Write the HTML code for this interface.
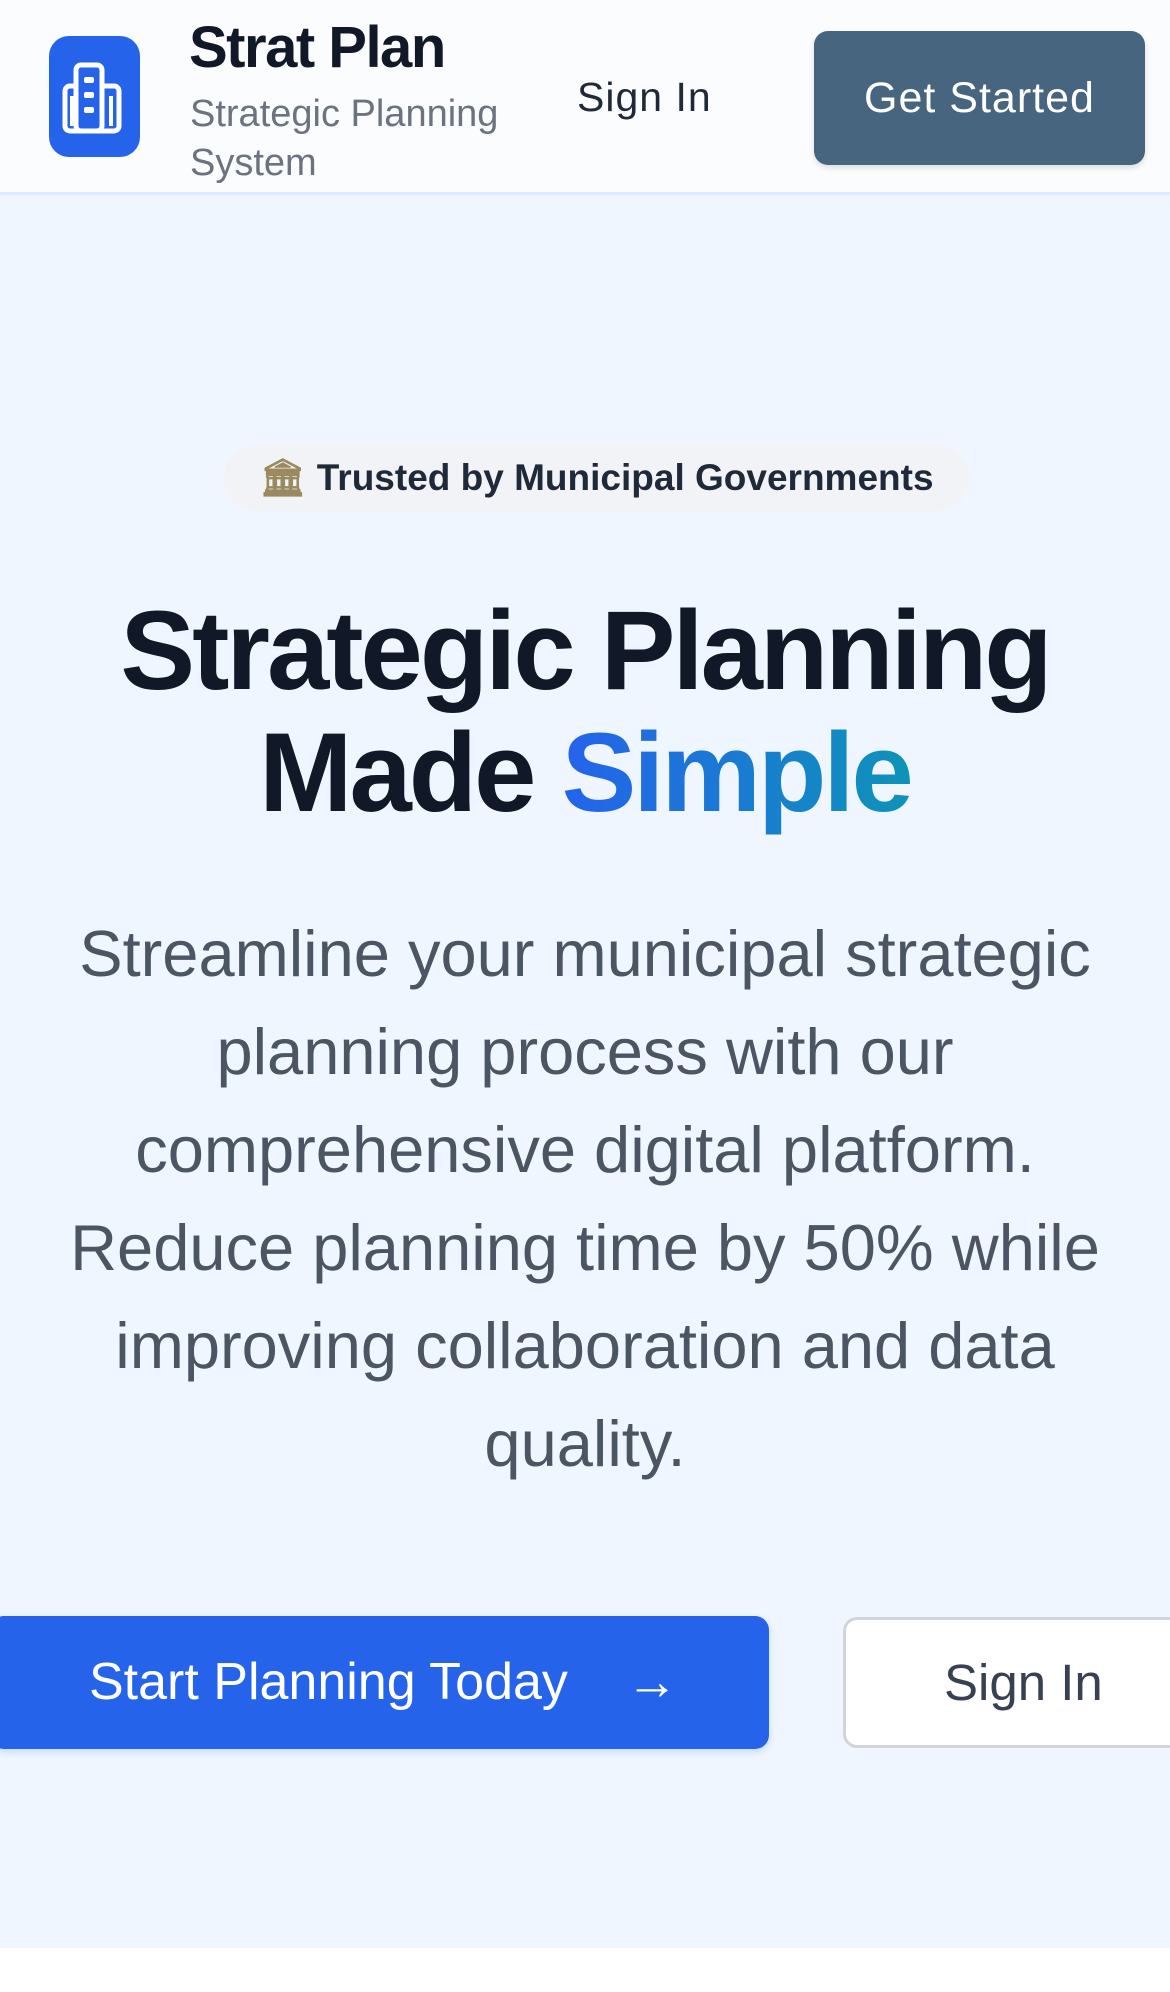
<!DOCTYPE html>
<html><head><meta charset="utf-8">
<style>
*{margin:0;padding:0;box-sizing:border-box}
body{width:1170px;height:1992px;background:#fff;font-family:"Liberation Sans",sans-serif;position:relative;overflow:hidden}
.abs{position:absolute}
#header{left:0;top:0;width:1170px;height:195px;background:#fbfcfe;border-bottom:3px solid #dbeafe}
#hero{left:0;top:195px;width:1170px;height:1753px;background:#eff6ff}
.c{text-align:center;width:1170px;left:0}
</style></head><body>
<div id="header" class="abs"></div>
<div id="hero" class="abs"></div>

<div class="abs" style="left:49px;top:36px;width:91px;height:121px;background:#2563eb;border-radius:20px">
<svg width="91" height="121" viewBox="0 0 91 121"><g fill="none" stroke="#fff" stroke-width="5" stroke-linejoin="round"><rect x="27" y="29" width="26" height="66" rx="5"/><path d="M27 50 h-6 a5 5 0 0 0 -5 5 v35 a5 5 0 0 0 5 5 h44 a5 5 0 0 0 5 -5 v-35 a5 5 0 0 0 -5 -5 h-12"/></g><g fill="#fff"><rect x="35" y="41" width="10" height="6" rx="2"/><rect x="35" y="56" width="10" height="6" rx="2"/><rect x="35" y="71" width="10" height="6" rx="2"/><rect x="21" y="60" width="4" height="30"/><rect x="60" y="60" width="4" height="30"/></g></svg>
</div>
<div class="abs" style="left:189px;top:14px;font-size:58px;font-weight:bold;color:#111827;letter-spacing:-1.5px">Strat Plan</div>
<div class="abs" style="left:190px;top:90px;font-size:38px;line-height:49px;color:#6b7280;width:360px">Strategic Planning<br>System</div>
<div class="abs" style="left:577px;top:74px;font-size:41px;color:#1f2937;letter-spacing:1px">Sign In</div>
<div class="abs" style="left:814px;top:31px;width:331px;height:134px;background:#48657f;border-radius:14px;box-shadow:0 3px 6px rgba(0,0,0,.12);color:#fff;font-size:43px;line-height:134px;text-align:center;letter-spacing:1px">Get Started</div>

<div class="abs" style="left:224px;top:445px;width:745px;height:66px;background:#f1f3f6;border-radius:33px;font-size:37px;font-weight:bold;color:#1f2937;line-height:66px;text-align:center"><span style="font-family:'DejaVu Sans',sans-serif;color:#9a8a60">🏛</span> Trusted by Municipal Governments</div>

<div class="abs c" style="top:590px;font-size:112px;font-weight:bold;color:#111827;line-height:122px;letter-spacing:-3px">Strategic Planning<br>Made <span style="background:linear-gradient(90deg,#2563eb,#0e93b8);-webkit-background-clip:text;background-clip:text;color:transparent">Simple</span></div>

<div class="abs c" style="top:905px;font-size:65px;line-height:98px;color:#4b5563">Streamline your municipal strategic<br>planning process with our<br>comprehensive digital platform.<br>Reduce planning time by 50% while<br>improving collaboration and data<br>quality.</div>

<div class="abs" style="left:-10px;top:1616px;width:779px;height:133px;background:#2563eb;border-radius:14px;box-shadow:0 3px 8px rgba(37,99,235,.2);color:#fff;font-size:52px;line-height:133px">
<span style="position:absolute;left:99px">Start Planning Today</span>
<span style="position:absolute;left:636px;top:0">→</span></div>
<div class="abs" style="left:843px;top:1617px;width:360px;height:131px;background:#fff;border:3px solid #d1d5db;border-radius:14px;color:#374151;font-size:51px;line-height:125px"><span style="position:absolute;left:98px">Sign In</span></div>
</body></html>
